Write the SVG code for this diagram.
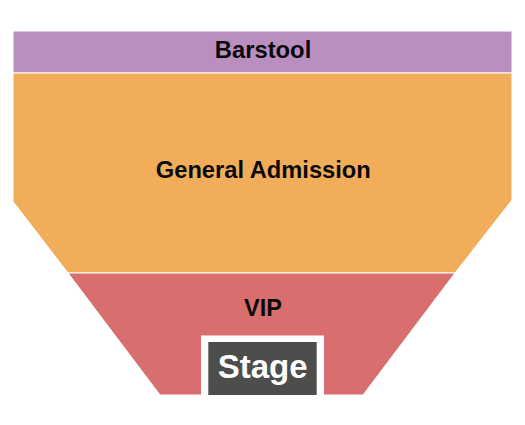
<svg xmlns="http://www.w3.org/2000/svg" width="525" height="425" viewBox="0 0 525 425">
<style>
.sec{stroke:#ffffff;stroke-width:1}
.lbl{font-family:"Liberation Sans",Arial,sans-serif;font-weight:bold;text-anchor:middle;fill:#0a0a0a}
</style>
<rect width="525" height="425" fill="#ffffff"/>
<g id="barstool">
<rect class="sec" x="13" y="31" width="499" height="42" fill="#b98fc0"/>
<text class="lbl" x="263" y="58.3" font-size="23.8">Barstool</text>
</g>
<g id="general-admission">
<polygon class="sec" points="13,73 512,73 512,200 455,273 68,273 13,201.5" fill="#f2ad5a"/>
<text class="lbl" x="263.3" y="178.3" font-size="23.7">General Admission</text>
</g>
<g id="vip">
<polygon class="sec" points="68,273 455,273 363,395 160,395" fill="#d86e6e"/>
<text class="lbl" x="263" y="316" font-size="23.5">VIP</text>
</g>
<g id="stage">
<rect x="201" y="335.5" width="123" height="60" fill="#ffffff"/>
<rect x="208.3" y="342" width="108.4" height="53" fill="#4d4d4b"/>
<text class="lbl" x="262.7" y="378.3" font-size="33" style="fill:#ffffff">Stage</text>
</g>
</svg>
